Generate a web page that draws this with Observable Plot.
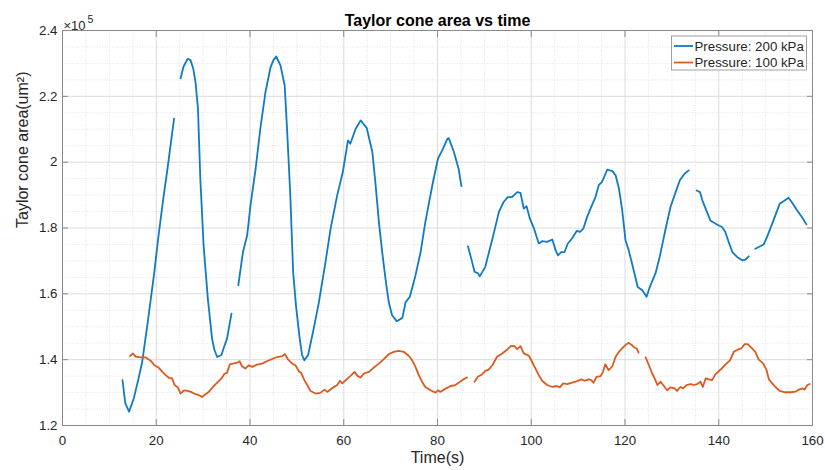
<!DOCTYPE html>
<html>
<head>
<meta charset="utf-8">
<script src="https://cdn.jsdelivr.net/npm/d3@7"></script>
<script src="https://cdn.jsdelivr.net/npm/@observablehq/plot@0.6"></script>
<style>
  html, body { margin: 0; padding: 0; background: #fff; }
  #chart svg { display: block; }
</style>
</head>
<body>
<div id="chart"></div>
<script>
// Values in units of ×10^5 um². null marks a gap in the recorded line.
const blueTime = [12.8,13.4,14.2,15.2,16.1,17.0,18.1,19.5,20.5,21.5,22.3,23.8,24.5,
  25.2,25.8,26.7,27.3,27.9,28.4,28.9,29.4,30.1,31.0,31.9,32.4,33.0,33.9,34.5,35.1,36.05,36.8,
  37.5,38.5,39.4,40.1,41.2,42.2,43.3,44.4,45.0,45.6,46.5,47.4,47.9,48.6,49.2,49.8,50.6,51.1,51.6,52.4,53.6,54.7,56.0,57.2,58.6,59.8,60.9,61.4,62.5,63.6,64.9,66.1,66.8,67.5,68.2,68.9,69.6,70.3,71.3,72.5,73.2,74.1,75.3,76.4,77.4,78.9,80.1,81.0,82.1,82.4,83.5,84.5,85.1,85.8,
  86.5,87.2,87.9,88.6,89.0,90.2,90.9,92.0,93.1,94.1,95.0,95.9,97.0,97.7,98.4,99.0,99.7,100.6,101.6,102.3,103.4,104.5,105.2,105.7,106.4,107.1,107.8,108.7,109.7,110.4,111.1,111.9,112.8,113.7,114.4,115.1,116.2,117.3,118.0,118.7,119.4,120.1,120.8,121.5,122.2,122.7,123.7,124.6,125.3,126.5,127.4,128.6,129.7,130.8,131.7,132.7,133.6,134.4,
  135.3,136.0,136.5,137.2,138.2,139.7,140.7,141.4,142.1,142.9,143.9,145.0,145.7,146.4,147.1,
  147.8,149.6,150.3,151.0,152.1,153.0,153.9,154.9,155.7,156.7,157.8,158.7];
const blueArea = [1.338,1.267,1.242,1.282,1.335,1.393,1.505,1.656,1.778,1.889,1.970,2.132,null,
  2.255,2.290,2.314,2.310,2.284,2.240,2.162,1.950,1.747,1.586,1.464,1.430,1.408,1.414,1.440,1.464,1.540,null,
  1.626,1.727,1.778,1.869,1.980,2.102,2.213,2.289,2.310,2.321,2.294,2.233,2.102,1.899,1.667,1.565,1.464,1.415,1.398,1.414,1.495,1.575,1.687,1.798,1.899,1.970,2.066,2.056,2.100,2.127,2.104,2.031,1.930,1.818,1.727,1.646,1.575,1.535,1.517,1.527,1.575,1.591,1.656,1.727,1.818,1.930,2.011,2.036,2.071,2.073,2.031,1.980,1.927,null,
  1.744,1.707,1.667,1.663,1.653,1.682,1.722,1.783,1.849,1.879,1.894,1.894,1.909,1.907,1.859,1.866,1.829,1.798,1.753,1.760,1.758,1.765,1.732,1.717,1.727,1.727,1.753,1.768,1.791,1.788,1.798,1.833,1.864,1.894,1.930,1.940,1.977,1.973,1.960,1.920,1.854,1.763,1.732,1.692,1.651,1.621,1.611,1.591,1.621,1.662,1.712,1.793,1.864,1.909,1.945,1.965,1.975,null,
  1.914,1.909,1.884,1.859,1.823,1.810,1.803,1.788,1.758,1.727,1.712,1.702,1.704,1.714,null,
  1.737,1.750,1.773,1.798,1.839,1.874,1.882,1.892,1.876,1.854,1.832,1.811];

const orangeTime = [14.4,15.0,15.6,16.6,17.7,18.8,19.6,20.5,21.3,22.0,22.7,23.4,23.9,24.6,25.2,25.9,26.7,27.4,28.4,29.1,29.8,30.5,31.2,32.1,33.0,33.9,34.6,35.1,35.7,36.4,37.1,37.8,38.3,39.0,39.7,40.5,41.5,42.6,43.7,44.7,45.8,46.9,47.4,48.1,49.0,49.7,50.4,50.9,51.6,52.2,52.9,54.0,55.0,55.9,56.5,57.5,58.6,59.2,59.7,60.6,61.4,62.3,63.0,63.6,64.3,65.4,66.4,67.5,68.5,69.6,70.7,71.7,72.8,73.9,74.6,75.3,76.0,76.7,77.4,78.5,79.6,80.1,80.6,81.7,82.8,83.8,84.5,85.5,86.3,87.1,
  87.9,88.6,89.5,90.2,90.9,91.7,92.7,93.8,94.9,95.7,96.4,97.0,97.7,98.4,99.5,100.2,100.9,101.6,102.3,103.4,104.5,105.4,106.1,106.8,107.7,108.7,109.8,110.7,111.4,112.3,112.8,113.3,113.9,114.8,115.3,115.8,116.5,117.3,118.0,118.7,119.4,120.3,120.8,121.5,122.0,122.5,122.9,123.6,
  124.4,125.1,125.8,126.5,126.9,127.6,128.3,129.0,129.7,130.6,131.1,131.8,132.4,133.1,134.0,134.7,135.4,136.1,136.6,137.2,137.9,138.6,139.3,140.4,141.4,142.4,143.2,144.1,144.8,145.5,146.2,147.1,147.8,148.5,149.5,150.2,150.7,151.4,152.1,153.0,154.2,155.3,156.4,157.1,157.8,158.3,158.9,159.4];
const orangeArea = [1.411,1.419,1.409,1.407,1.407,1.397,1.383,1.376,1.363,1.353,1.345,1.343,1.323,1.316,1.297,1.307,1.305,1.302,1.295,1.292,1.287,1.295,1.302,1.317,1.330,1.343,1.358,1.360,1.386,1.388,1.390,1.395,1.380,1.373,1.383,1.378,1.385,1.388,1.396,1.402,1.408,1.411,1.417,1.401,1.388,1.383,1.365,1.360,1.338,1.323,1.305,1.297,1.299,1.309,1.302,1.313,1.323,1.336,1.328,1.340,1.350,1.363,1.350,1.346,1.358,1.363,1.376,1.388,1.401,1.417,1.424,1.427,1.424,1.411,1.398,1.378,1.353,1.333,1.317,1.307,1.300,1.307,1.302,1.312,1.320,1.323,1.330,1.340,1.346,null,
  1.333,1.348,1.355,1.366,1.370,1.383,1.409,1.419,1.431,1.442,1.441,1.432,1.441,1.419,1.412,1.393,1.373,1.353,1.336,1.323,1.317,1.320,1.316,1.328,1.326,1.330,1.335,1.340,1.336,1.340,1.338,1.330,1.348,1.350,1.363,1.386,1.368,1.380,1.409,1.424,1.434,1.447,1.451,1.444,1.437,1.434,1.421,null,
  1.407,1.383,1.358,1.338,1.323,1.333,1.320,1.307,1.316,1.313,1.305,1.317,1.313,1.323,1.326,1.323,1.326,1.333,1.317,1.343,1.340,1.338,1.356,1.370,1.385,1.398,1.424,1.431,1.434,1.447,1.447,1.434,1.424,1.401,1.388,1.368,1.340,1.328,1.317,1.305,1.301,1.301,1.303,1.309,1.313,1.309,1.323,1.326];

const xTicks = [0, 20, 40, 60, 80, 100, 120, 140, 160];
const yTicks = [1.2, 1.4, 1.6, 1.8, 2.0, 2.2, 2.4];
const seriesNames = ["Pressure: 200 kPa", "Pressure: 100 kPa"];
const seriesColors = ["#0f7bc4", "#dc5a20"];
const titleText = "Taylor cone area vs time";
const xLabel = "Time(s)";
const yLabel = "Taylor cone area(um²)";

const blue = blueTime.map((t, i) => ({t, v: blueArea[i]}));
const orange = orangeTime.map((t, i) => ({t, v: orangeArea[i]}));
const xMinor = d3.range(0, 161, 5).filter(d => d % 20 !== 0);
const yMinor = d3.range(1.2, 2.401, 0.05).map(d => +d.toFixed(2)).filter(d => !yTicks.some(t => Math.abs(t - d) < 1e-6));

const axisColor = "#8a8a8a";
const fontStack = "'Liberation Sans', Arial, Helvetica, sans-serif";

const chart = Plot.plot({
  width: 825,
  height: 470,
  marginLeft: 62,
  marginRight: 13,
  marginTop: 30,
  marginBottom: 45,
  style: {fontFamily: fontStack, fontSize: "13.3px", color: "#262626", background: "#fff"},
  x: {domain: [0, 160]},
  y: {domain: [1.2, 2.4]},
  marks: [
    Plot.ruleX(xMinor, {x: d => d, stroke: "#e4e4e4", strokeDasharray: "1,1.5"}),
    Plot.ruleY(yMinor, {y: d => d, stroke: "#e4e4e4", strokeDasharray: "1,1.5"}),
    Plot.ruleX(xTicks, {x: d => d, stroke: "#dcdcdc"}),
    Plot.ruleY(yTicks, {y: d => d, stroke: "#dcdcdc"}),
    Plot.frame({stroke: axisColor}),
    Plot.axisX(xTicks, {anchor: "bottom", tickSize: -6, tickPadding: 16, stroke: axisColor, fill: "#262626", label: null, tickFormat: d => String(d), fontSize: 13.3}),
    Plot.axisX(xTicks, {anchor: "top", tickSize: -6, stroke: axisColor, label: null, tickFormat: () => ""}),
    Plot.axisY(yTicks, {anchor: "left", tickSize: -6, tickPadding: 11, stroke: axisColor, fill: "#262626", label: null, tickFormat: d => String(+d.toFixed(1)), fontSize: 13.3}),
    Plot.axisY(yTicks, {anchor: "right", tickSize: -6, stroke: axisColor, label: null, tickFormat: () => ""}),
    Plot.line(blue, {x: "t", y: "v", stroke: seriesColors[0], strokeWidth: 1.8}),
    Plot.line(orange, {x: "t", y: "v", stroke: seriesColors[1], strokeWidth: 1.8}),
    Plot.text([titleText], {text: d => d, frameAnchor: "top", dy: -16, fontWeight: "bold", fontSize: 16, fill: "#000"}),
    Plot.text([xLabel], {text: d => d, frameAnchor: "bottom", dy: 37.5, fontSize: 16, fill: "#262626"}),
    Plot.text([yLabel], {text: d => d, frameAnchor: "left", dx: -40, rotate: -90, fontSize: 16, fill: "#262626"}),
    Plot.text(["×10"], {text: d => d, frameAnchor: "top-left", textAnchor: "start", dx: 1, dy: -10, fontSize: 13, fill: "#262626"}),
    Plot.text(["5"], {text: d => d, frameAnchor: "top-left", textAnchor: "start", dx: 25, dy: -15, fontSize: 10.5, fill: "#262626"})
  ]
});

document.getElementById("chart").appendChild(chart);

// Legend inside the axes, top-right corner
const svgSel = d3.select(chart);
const xScale = chart.scale("x"), yScale = chart.scale("y");
const frameRight = xScale.range[1], frameTop = Math.min(...yScale.range);
const legW = 135, legH = 34;
const legX = frameRight - 5.5 - legW, legY = frameTop + 6;
const legG = svgSel.append("g").attr("font-family", fontStack).attr("font-size", 13.3).attr("text-anchor", "start");
legG.append("rect").attr("x", legX).attr("y", legY).attr("width", legW).attr("height", legH)
  .attr("fill", "#fff").attr("stroke", "#a0a0a0").attr("stroke-width", 1);
seriesNames.forEach((name, i) => {
  const cy = legY + 10 + i * 16.5;
  legG.append("line").attr("x1", legX + 2.5).attr("x2", legX + 21.5).attr("y1", cy).attr("y2", cy)
    .attr("stroke", seriesColors[i]).attr("stroke-width", 1.8);
  legG.append("text").attr("x", legX + 23).attr("y", cy).attr("dy", "0.35em")
    .attr("text-anchor", "start").attr("fill", "#262626").text(name);
});
</script>
</body>
</html>
